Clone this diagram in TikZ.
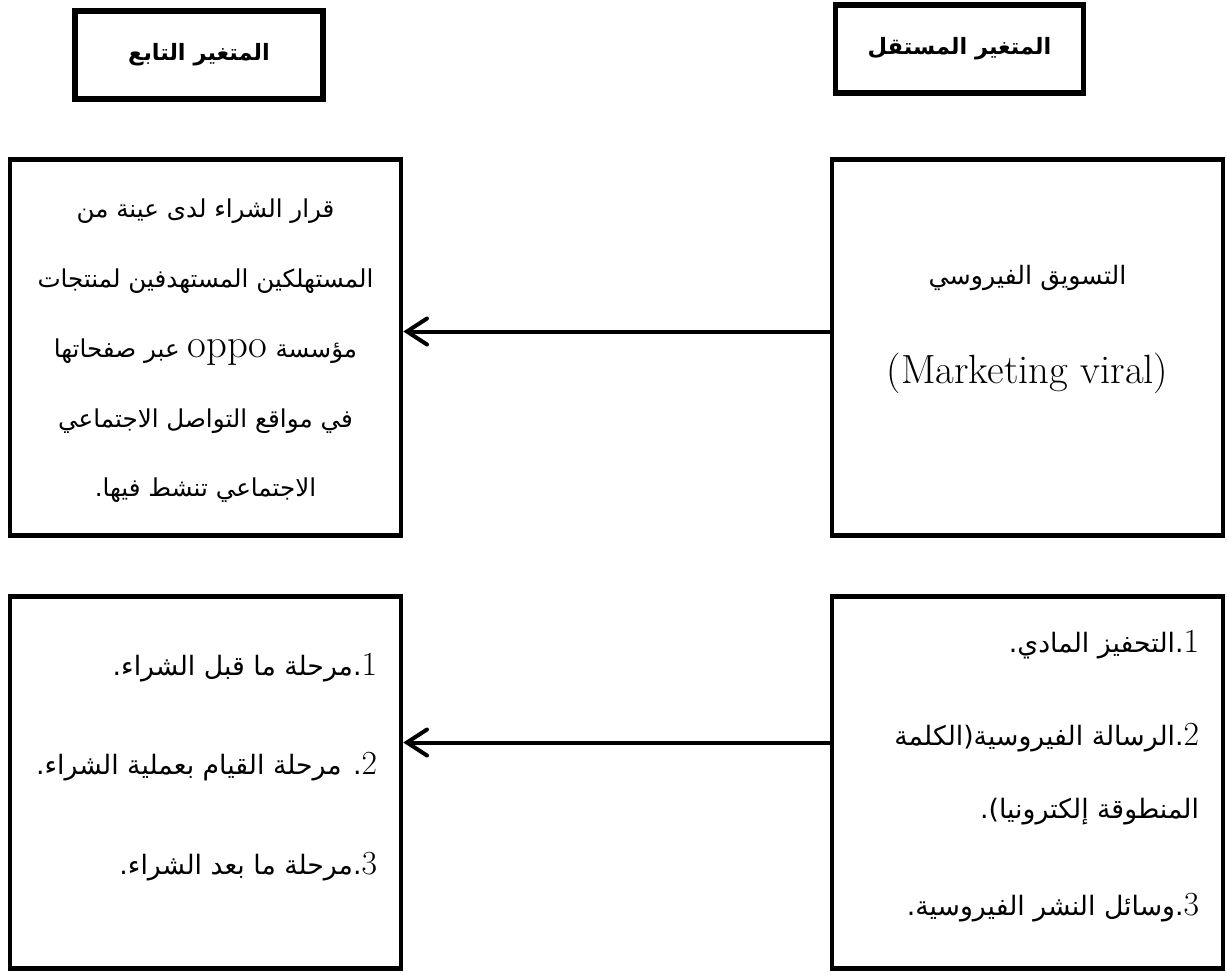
\documentclass[tikz,border=0pt]{standalone}
\usepackage{fontspec}
\usetikzlibrary{arrows.meta, positioning}
\TeXXeTstate=1
\newfontfamily\arabicfont[Script=Arabic]{DejaVu Sans}
\newcommand\lat[1]{{\rmfamily\fontsize{29}{29}\selectfont #1}}
\newcommand\nr[1]{{\rmfamily\fontsize{24}{24}\selectfont #1}}

\begin{document}
\begin{tikzpicture}[
    node distance = 10.875cm and 20.55cm, on grid,
box/.style  = {draw, line width=1.1mm, minimum width=9.78cm, minimum height=9.3cm},
head/.style = {draw, line width=1.4mm, minimum width=6.2cm, minimum height=2.2cm,
               font=\arabicfont\bfseries\fontsize{16}{20}\selectfont},
txt/.style  = {inner sep=0pt, font=\arabicfont\fontsize{17.5}{49.6pt}\selectfont},
arr/.style  = {line width=1mm, line cap=round,
               -{Straight Barb[length=5mm,width=6.5mm,line cap=round]}},
sy1/.style = {yshift=4mm},
sy2/.style = {yshift=10mm},
                    ]
\useasboundingbox (0,0) rectangle (30.675,-24.35);
% boxes
\node[box, minimum height=9.4cm] (decision) at (5.1375,-8.6875) {};
\node[box, minimum height=9.4cm] (viral)  [right=of decision] {};
\node[box] (stages) [below=of decision] {};
\node[box] (dims)   [right=of stages] {};
% headings
\node[head] (depHead) at (4.975,-1.375) {\beginR المتغير التابع\endR};
\node[head] (indHead) at (23.9875,-1.225) {\beginR المتغير المستقل\endR};
% texts
\node[txt, align=center] (decisionTxt) at ([yshift=-0.09cm] decision.center)
    {\beginR قرار الشراء لدى عينة من\endR\\
     \beginR المستهلكين المستهدفين لمنتجات\endR\\
     \beginR مؤسسة \lat{oppo} عبر صفحاتها\endR\\
     \beginR في مواقع التواصل الاجتماعي\endR\\
     \beginR الاجتماعي تنشط فيها.\endR};
\node[txt, align=center, font=\arabicfont\fontsize{18}{70.9pt}\selectfont]
    (viralTxt) at ([yshift=0.45cm] viral.center)
    {\beginR التسويق الفيروسي\endR\\
     \lat{(Marketing viral)}};
\node[txt, align=right, anchor=east, font=\arabicfont\fontsize{19}{70.9pt}\selectfont]
    (stagesTxt) at ([xshift=-0.65cm, yshift=0.39cm] stages.east)
    {\beginR\nr{1}.مرحلة ما قبل الشراء.\endR\\
     \beginR\nr{2}. مرحلة القيام بعملية الشراء.\endR\\
     \beginR\nr{3}.مرحلة ما بعد الشراء.\endR};
\node[txt, align=right, anchor=east, font=\arabicfont\fontsize{19}{51.7pt}\selectfont]
    (dimsTxt) at ([xshift=-0.65cm, yshift=0.16cm] dims.east)
    {\beginR\nr{1}.التحفيز المادي.\endR\\[0.5cm]
     \beginR\nr{2}.الرسالة الفيروسية(الكلمة\endR\\
     \beginR المنطوقة إلكترونيا).\endR\\[0.6cm]
     \beginR\nr{3}.وسائل النشر الفيروسية.\endR};
%
\draw[arr] ([sy1] viral.west) -- ([sy1] decision.east);
\draw[arr] ([sy2] dims.west)  -- ([sy2] stages.east);
\end{tikzpicture}
\end{document}
